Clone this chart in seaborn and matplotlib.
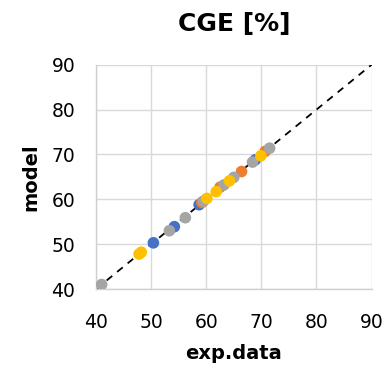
import matplotlib
matplotlib.use("Agg")
import matplotlib.pyplot as plt
import seaborn as sns
import pandas as pd

# CGE [%] - experimental vs. model values for four series
blue_exp = [50.4, 54.2, 58.7, 68.9]
blue_mod = [50.3, 53.9, 58.8, 68.8]
orange_exp = [59.2, 62.5, 66.4, 70.7]
orange_mod = [59.3, 62.7, 66.2, 70.7]
gray_exp = [41.0, 53.3, 56.2, 59.5, 63.2, 65.0, 68.4, 71.5]
gray_mod = [41.0, 53.0, 55.9, 59.6, 63.2, 64.9, 68.3, 71.4]
yellow_exp = [47.8, 48.2, 60.1, 61.8, 64.2, 69.9]
yellow_mod = [47.8, 48.2, 60.2, 61.7, 64.1, 69.7]

series = {
    "s1": (blue_exp, blue_mod),
    "s2": (orange_exp, orange_mod),
    "s3": (gray_exp, gray_mod),
    "s4": (yellow_exp, yellow_mod),
}
colors = {"s1": "#4472C4", "s2": "#ED7D31", "s3": "#A5A5A5", "s4": "#FFC000"}

rows = []
for name, (xs, ys) in series.items():
    for x, y in zip(xs, ys):
        rows.append({"exp": x, "model": y, "series": name})
df = pd.DataFrame(rows)

ticks = [40, 50, 60, 70, 80, 90]

sns.set_style("white")
plt.rcParams["font.family"] = ["DejaVu Sans"]
plt.rcParams["text.color"] = "black"
plt.rcParams["axes.labelcolor"] = "black"

fig = plt.figure(figsize=(3.83, 3.67), dpi=100)
ax = fig.add_axes([0.251, 0.2125, 0.719, 0.611])

ax.plot([40, 90], [40, 90], color="black", linestyle=(0, (4, 3.5)), linewidth=1.3, zorder=1)
sns.scatterplot(data=df, x="exp", y="model", hue="series", palette=colors,
                s=70, edgecolor="none", legend=False, ax=ax, zorder=3)

ax.set_xlim(40, 90)
ax.set_ylim(40, 90)
ax.set_xticks(ticks)
ax.set_yticks(ticks)
ax.grid(True, color="#D9D9D9", linewidth=1.0)
ax.set_axisbelow(True)
for side in ["top", "right"]:
    ax.spines[side].set_visible(False)
for side in ["left", "bottom"]:
    ax.spines[side].set_color("#D0D0D0")
    ax.spines[side].set_linewidth(1.0)
ax.tick_params(axis="both", which="major", length=6, width=1.0, color="#D0D0D0",
               labelsize=13.5, labelcolor="black", direction="out")
ax.tick_params(axis="x", pad=11)
ax.tick_params(axis="y", pad=9)

ax.set_xlabel("exp.data", fontsize=14, fontweight="bold", labelpad=9)
ax.set_ylabel("model", fontsize=14, fontweight="bold", labelpad=8)
ax.set_title("CGE [%]", fontsize=18, fontweight="bold", pad=24)

fig.savefig("out.png", dpi=100)
